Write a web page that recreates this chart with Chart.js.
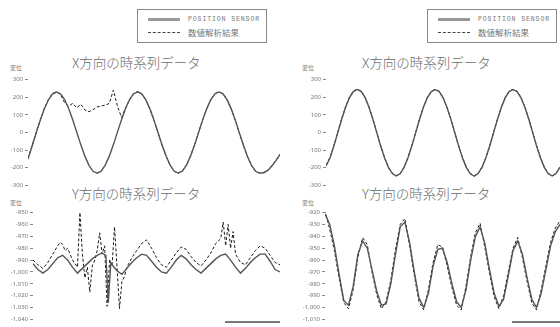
<!DOCTYPE html>
<html>
<head>
<meta charset="utf-8">
<script src="https://cdn.jsdelivr.net/npm/chart.js@4"></script>
<style>
body { margin: 0; background: #fff; width: 560px; height: 327px; position: relative; overflow: hidden; font-family: "Noto Sans CJK JP", "Noto Sans", sans-serif; }
canvas { position: absolute; }
.legend { position: absolute; top: 9px; width: 130px; height: 34px; border: 1px solid #888; box-sizing: border-box; background: #fff; }
.legend .row { position: absolute; left: 10px; height: 10px; display: flex; align-items: center; color: #777; white-space: nowrap; }
.legend .en { font-size: 6.5px; letter-spacing: 0.9px; font-family: "Liberation Mono", monospace; }
.legend .jp { font-size: 8.5px; }
.sw { display: inline-block; width: 32px; margin-right: 8px; }
.sw.solid { height: 3px; background: #999; }
.sw.dash { border-top: 1.5px dashed #444; }
.title { position: absolute; font-size: 13.5px; line-height: 14px; color: #6a6a6a; white-space: nowrap; font-weight: 300; }
.unit { position: absolute; font-size: 6px; line-height: 7px; color: #777; }
.bar { position: absolute; height: 2px; background: #777; }
</style>
</head>
<body>

<div class="legend" style="left:137px">
  <div class="row en" style="top:4px"><span class="sw solid"></span>POSITION SENSOR</div>
  <div class="row jp" style="top:17px"><span class="sw dash"></span>数値解析結果</div>
</div>
<div class="legend" style="left:427px">
  <div class="row en" style="top:4px"><span class="sw solid"></span>POSITION SENSOR</div>
  <div class="row jp" style="top:17px"><span class="sw dash"></span>数値解析結果</div>
</div>

<div class="title" style="left:72px;top:55px">X方向の時系列データ</div>
<div class="title" style="left:362px;top:55px">X方向の時系列データ</div>
<div class="title" style="left:72px;top:186px">Y方向の時系列データ</div>
<div class="title" style="left:362px;top:186px">Y方向の時系列データ</div>

<div class="unit" style="left:10px;top:64px">変位</div>
<div class="unit" style="left:302px;top:64px">変位</div>
<div class="unit" style="left:10px;top:199px">変位</div>
<div class="unit" style="left:302px;top:199px">変位</div>

<canvas id="c1" width="280" height="117" style="left:0;top:74px"></canvas>
<canvas id="c2" width="280" height="117" style="left:280px;top:74px"></canvas>
<canvas id="c3" width="280" height="118" style="left:0;top:207px"></canvas>
<canvas id="c4" width="280" height="118" style="left:280px;top:207px"></canvas>

<div class="bar" style="left:225px;top:321px;width:55px"></div>
<div class="bar" style="left:512px;top:321px;width:48px"></div>

<script>
// X方向 (左)
const xLeftSensor = [-150,-78,-3,68,133,184,218,229,220,187,136,72,1,-70,-134,-186,-220,-231,-219,-185,-134,-70,2,72,136,187,220,231,219,185,134,70,-1,-72,-135,-187,-220,-230,-218,-185,-133,-70,2,73,136,187,220,230,219,185,134,70,-2,-72,-136,-187,-220,-230,-228,-215,-190,-160,-125];
const xLeftModel = [-146,-74,0,70,135,186,221,232,215,170,150,165,140,160,128,118,130,145,150,155,165,240,150,85,138,188,222,232,218,184,133,69,-2,-73,-136,-188,-221,-231,-217,-184,-132,-69,3,74,137,188,221,231,218,184,133,69,-3,-73,-137,-188,-221,-231,-227,-214,-189,-158,-123];

// X方向 (右)
const xRightSensor = [-190,-146,-78,-2,74,142,197,232,244,233,199,145,77,1,-75,-143,-198,-233,-247,-234,-199,-145,-77,-1,75,144,198,232,243,233,198,143,76,0,-76,-145,-199,-234,-248,-233,-198,-143,-75,1,77,145,199,233,243,232,197,143,75,-1,-77,-145,-199,-234,-247,-233,-197];
const xRightModel = [-186,-142,-75,1,77,145,200,235,246,235,201,147,79,3,-73,-141,-196,-231,-245,-232,-197,-142,-74,2,78,146,200,234,245,234,199,145,78,2,-74,-143,-197,-232,-246,-231,-196,-141,-73,3,79,147,201,235,245,234,199,145,77,1,-75,-143,-197,-232,-245,-231,-195];

// Y方向 (左)
const yLeftSensorT = [0,2,4,6,8,10,12,14,16,18,20,22,24,26,28,29.5,30.5,31.5,32,34,36,38,40,42,44,46,48,50,52,54,56,58,60,62,64,66,68,70,72,74,76,78,80,82,84,86,88,90,92,94,96,98,100];
const yLeftSensor = [-993,-998,-1001,-998,-993,-988,-986,-990,-996,-1001,-997,-993,-989,-986,-984,-986,-1026,-992,-994,-999,-1002,-997,-992,-988,-985,-986,-991,-996,-1000,-1001,-996,-990,-986,-989,-994,-998,-1001,-997,-993,-989,-986,-985,-990,-996,-1001,-997,-992,-988,-985,-985,-991,-998,-1000];
const yLeftModelT = [0,2,4,6,8,10,11,12,13,14,16,18,19,20,21,22,23,24,25,26,27,28,29,30,31,32,33,34,35,36,37,38,40,42,44,46,48,50,52,54,56,58,60,62,64,66,68,70,72,74,76,77,78,79,80,81,82,84,86,88,90,92,94,96,98,100];
const yLeftModel = [-990,-994,-997,-992,-985,-978,-975,-977,-982,-980,-990,-996,-950,-985,-1005,-996,-1017,-995,-990,-982,-967,-985,-978,-1029,-990,-995,-962,-995,-1031,-1008,-1004,-996,-988,-982,-976,-973,-980,-988,-994,-996,-990,-984,-979,-981,-987,-992,-995,-990,-984,-976,-972,-958,-978,-960,-980,-966,-985,-992,-994,-988,-982,-978,-980,-986,-992,-994];

// Y方向 (右)
const yRightT = [0,2,4,6,8,10,12,14,16,18,20,22,24,26,28,30,32,34,36,38,40,42,44,46,48,50,52,54,56,58,60,62,64,66,68,70,72,74,76,78,80,82,84,86,88,90,92,94,96,98,100];
const yRightSensor = [-921,-930,-948,-972,-994,-998,-982,-955,-944,-950,-968,-986,-998,-997,-980,-955,-932,-928,-945,-970,-992,-1000,-988,-965,-951,-950,-962,-980,-995,-1000,-985,-960,-940,-932,-946,-968,-988,-999,-993,-973,-952,-944,-955,-975,-993,-1000,-988,-968,-948,-936,-930];
const yRightModel = [-918,-934,-952,-975,-996,-1001,-985,-958,-941,-947,-970,-989,-1001,-995,-977,-951,-930,-925,-948,-973,-995,-1002,-985,-962,-947,-949,-965,-983,-998,-1002,-982,-957,-937,-929,-949,-971,-991,-1001,-990,-970,-950,-941,-958,-978,-996,-1002,-985,-965,-945,-933,-927];

const idx = n => Array.from({ length: n }, (_, i) => i);

function draw(id, sets, yMin, yMax, yStep, axisW, xMax) {
  new Chart(document.getElementById(id), {
    type: 'line',
    data: {
      datasets: sets.map(s => ({
        data: s.t.map((t, i) => ({ x: t, y: s.v[i] })),
        borderColor: s.dash ? '#1a1a1a' : '#555',
        borderWidth: s.dash ? 1 : 1.4,
        borderDash: s.dash ? [3, 2] : [],
        pointRadius: 0,
        tension: 0,
        fill: false
      }))
    },
    options: {
      responsive: false,
      animation: false,
      devicePixelRatio: 1,
      layout: { padding: { top: 3, bottom: 3, left: 0, right: 0 } },
      plugins: { legend: { display: false }, tooltip: { enabled: false } },
      scales: {
        x: { type: 'linear', min: 0, max: xMax, display: false },
        y: {
          min: yMin, max: yMax,
          ticks: { stepSize: yStep, color: '#777', padding: 2, font: { size: 6, family: 'Noto Sans' } },
          grid: { drawOnChartArea: false, tickLength: 3, color: '#888' },
          border: { display: false },
          afterFit: s => { s.width = axisW; }
        }
      }
    }
  });
}

draw('c1', [{ t: idx(xLeftSensor.length), v: xLeftSensor }, { t: idx(xLeftModel.length), v: xLeftModel, dash: true }], -300, 300, 100, 28, 62);
draw('c2', [{ t: idx(xRightSensor.length), v: xRightSensor }, { t: idx(xRightModel.length), v: xRightModel, dash: true }], -300, 300, 100, 46, 60);
draw('c3', [{ t: yLeftSensorT, v: yLeftSensor }, { t: yLeftModelT, v: yLeftModel, dash: true }], -1040, -950, 10, 33, 100);
draw('c4', [{ t: yRightT, v: yRightSensor }, { t: yRightT, v: yRightModel, dash: true }], -1010, -920, 10, 45, 100);
</script>
</body>
</html>
